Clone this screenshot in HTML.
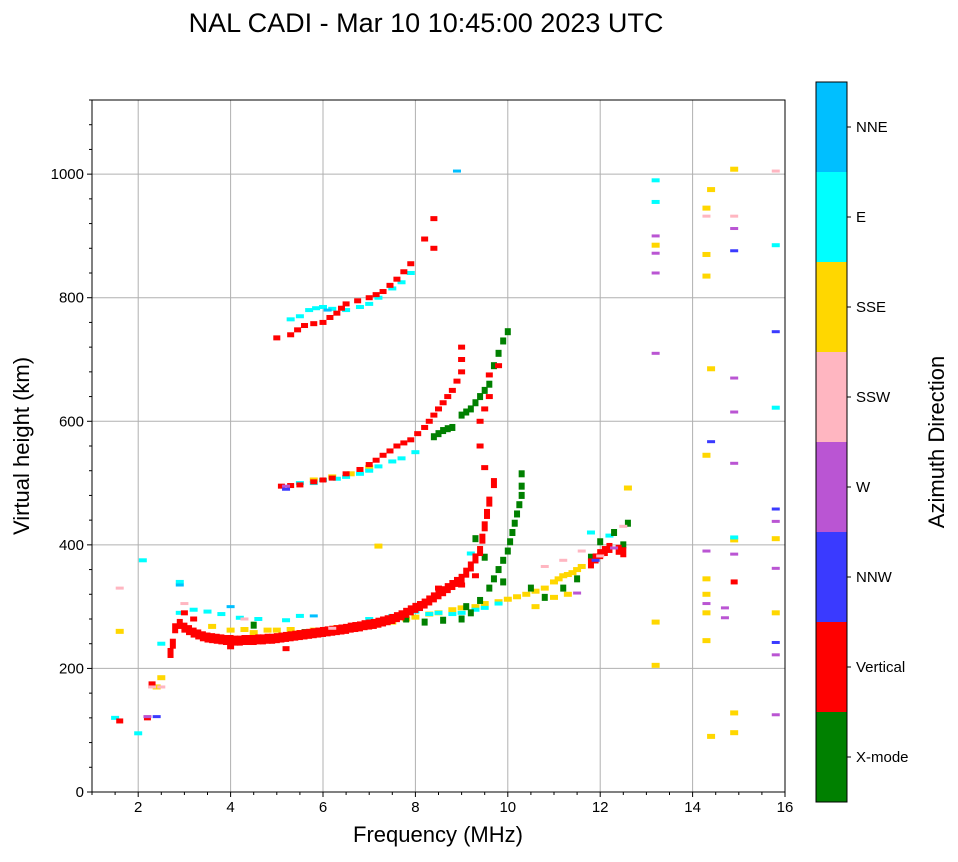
<!DOCTYPE html>
<html><head><meta charset="utf-8"><style>
body{margin:0;background:#fff;font-family:"Liberation Sans","DejaVu Sans",sans-serif;}
svg text{font-family:"Liberation Sans","DejaVu Sans",sans-serif;}
</style></head><body>
<svg id="chart" width="958" height="857" xmlns="http://www.w3.org/2000/svg">
<rect width="958" height="857" fill="#fff"/>
<text x="426" y="32" font-size="27" text-anchor="middle">NAL CADI - Mar 10 10:45:00 2023 UTC</text>
<g id="grid"></g>
<g id="marks"></g>
<g id="axes"></g>
<g id="cbar"></g>
<text x="438" y="842" font-size="22" text-anchor="middle">Frequency (MHz)</text>
<text transform="translate(29,446) rotate(-90)" font-size="22" text-anchor="middle">Virtual height (km)</text>
<text transform="translate(944,442) rotate(-90)" font-size="22" text-anchor="middle">Azimuth Direction</text>
</svg>
<script>
const directionLabels=["X-mode","Vertical","NNW","W","SSW","SSE","E","NNE"];
const directionColors=["#008000","#ff0000","#3a3aff","#ba55d3","#ffb6c1","#ffd700","#00ffff","#00bfff"];
const xTicks=[2,4,6,8,10,12,14,16];
const yTicks=[0,200,400,600,800,1000];
const redLower=[[2.7,225],[2.75,240],[2.8,265],[2.9,272],[3.0,266],[3.1,262],[3.2,258],[3.3,255],[3.4,252],[3.5,250],[3.6,249],[3.7,248],[3.8,247],[3.9,246],[4.0,246],[4.1,245],[4.2,245],[4.3,246],[4.4,246],[4.5,246],[4.6,247],[4.7,247],[4.8,248],[4.9,248],[5.0,249],[5.1,250],[5.2,251],[5.3,252],[5.4,253],[5.5,254],[5.6,255],[5.7,256],[5.8,257],[5.9,258],[6.0,259],[6.1,260],[6.2,261],[6.3,262],[6.4,263],[6.5,264],[6.6,266],[6.7,267],[6.8,268],[6.9,270],[7.0,271],[7.1,272],[7.2,274],[7.3,276],[7.4,278],[7.5,280],[7.6,283],[7.7,286],[7.8,290],[7.9,294],[8.0,298],[8.1,301],[8.2,305],[8.3,310],[8.4,315],[8.5,320],[8.6,325],[8.7,330],[8.8,335],[8.9,340],[9.0,345],[9.1,355],[9.2,365],[9.3,378],[9.4,390],[9.45,410],[9.5,430],[9.55,450],[9.6,470],[9.7,500],[11.8,370],[11.9,378],[12.0,385],[12.1,390],[12.2,395],[12.4,392],[12.5,388]];
const redScatter=[[5.1,495],[5.3,496],[5.5,497],[5.8,502],[6,505],[6.2,508],[6.5,515],[6.8,522],[7,530],[7.15,537],[7.3,545],[7.45,552],[7.6,560],[7.75,565],[7.9,570],[8.05,580],[8.2,590],[8.3,600],[8.4,610],[8.5,620],[8.6,630],[8.7,640],[8.8,650],[8.9,665],[9,680],[9,700],[9,720],[9.5,620],[9.4,600],[9.6,640],[9.8,690],[9.6,675],[9.5,525],[9.4,560],[5.0,735],[5.3,740],[5.45,748],[5.6,755],[5.8,758],[6.0,760],[6.15,768],[6.3,775],[6.4,783],[6.5,790],[6.75,795],[7.0,800],[7.15,805],[7.3,810],[7.45,820],[7.6,830],[7.75,842],[7.9,855],[8.2,895],[8.4,928],[8.4,880],[1.6,115],[2.2,120],[2.3,175],[14.9,340],[4.0,235],[5.2,232],[3.0,290],[3.2,280],[8.5,330],[9.0,335],[9.3,350]];
const yellowPts=[[3.6,268],[4.0,262],[4.3,263],[4.5,258],[4.8,262],[5,262],[5.3,263],[5.5,258],[5.8,262],[6.0,262],[6.3,266],[6.5,265],[6.8,270],[7,268],[7.3,275],[7.5,275],[7.8,280],[8,283],[8.3,288],[8.5,290],[8.8,295],[9,298],[9.3,300],[9.5,305],[9.8,308],[10,312],[10.2,316],[10.4,320],[10.6,325],[10.8,330],[11.0,340],[11.1,345],[11.2,350],[11.3,352],[11.4,355],[11.5,360],[11.6,365],[10.6,300],[11,315],[11.3,320],[12.6,492],[2.5,185],[2.4,170],[1.6,260],[13.2,275],[13.2,205],[14.3,345],[14.3,320],[14.3,290],[14.3,245],[14.4,90],[14.9,408],[14.9,128],[14.9,96],[14.3,870],[14.3,835],[14.3,545],[14.4,685],[14.3,945],[14.9,1008],[13.2,885],[14.4,975],[15.8,290],[15.8,410],[7.2,398],[5.8,505],[6.2,510],[6.6,515],[7.0,525]];
const cyanPts=[[2.9,290],[3.2,295],[3.5,292],[3.8,288],[4.2,282],[4.6,280],[5.2,278],[5.5,285],[7.0,280],[7.5,285],[8.0,292],[8.3,288],[8.5,290],[8.8,288],[9.0,290],[9.3,295],[9.5,298],[9.8,305],[11.8,420],[12.2,415],[2.5,240],[2.0,95],[1.5,120],[2.1,375],[13.2,990],[13.2,955],[14.9,412],[15.8,622],[15.8,885],[2.9,340],[9.2,386],[5.5,500],[5.8,500],[6,505],[6.3,507],[6.5,510],[6.8,515],[7,520],[7.2,527],[7.5,535],[7.7,540],[8,550],[5.5,770],[5.7,780],[5.85,783],[6,785],[6.2,782],[6.5,780],[6.8,785],[7,790],[7.2,800],[7.5,815],[7.7,825],[7.9,840],[5.3,765]];
const greenPts=[[7.8,280],[8.2,275],[8.6,278],[9,280],[9.2,290],[9.4,310],[9.6,330],[9.7,345],[9.8,360],[9.9,375],[10,390],[10.05,405],[10.1,420],[10.15,435],[10.2,450],[10.25,465],[10.3,480],[10.3,495],[10.3,515],[9.3,410],[9.1,300],[9.5,380],[9.9,340],[10.5,330],[10.8,315],[11.2,330],[11.5,345],[11.8,380],[12,405],[12.3,420],[12.6,435],[12.5,400],[5.6,258],[4.5,270],[8.4,575],[8.5,580],[8.6,585],[8.7,588],[8.8,590],[9,610],[9.1,615],[9.2,620],[9.3,630],[9.4,640],[9.5,650],[9.6,660],[9.7,690],[9.8,710],[9.9,730],[10,745]];
const pinkPts=[[2.5,170],[2.3,170],[1.6,330],[3.0,305],[4.3,280],[6.2,265],[11.2,375],[11.6,390],[12,382],[10.8,365],[15.8,1005],[14.9,932],[14.3,932],[12.5,430]];
const orchidPts=[[13.2,900],[13.2,872],[13.2,840],[13.2,710],[14.9,912],[14.9,670],[14.9,615],[14.9,532],[14.9,385],[14.3,390],[14.3,305],[14.7,282],[14.7,298],[15.8,438],[15.8,362],[15.8,222],[15.8,125],[5.2,495],[12.3,395],[2.2,122],[11.5,322]];
const bluePts=[[15.8,745],[15.8,458],[15.8,242],[14.9,876],[14.4,567],[2.4,122],[5.2,490],[11.9,375]];
const skyPts=[[2.9,335],[8.9,1005],[5.8,285],[6.1,780],[4.0,300]];

const NS="http://www.w3.org/2000/svg";
const X0=92,X1=785,Y0=792,Y1=100;
function sx(f){return X0+(f-1)/15*(X1-X0);}
function sy(h){return Y0-h/1120*(Y0-Y1);}
function mk(tag,attrs,parent){const e=document.createElementNS(NS,tag);for(const k in attrs)e.setAttribute(k,attrs[k]);parent.appendChild(e);return e;}
const grid=document.getElementById('grid'),axes=document.getElementById('axes'),marks=document.getElementById('marks'),cb=document.getElementById('cbar');
xTicks.forEach(t=>{const l=mk('line',{x1:sx(t),x2:sx(t),y1:Y1,y2:Y0,stroke:'#b0b0b0','stroke-width':1},grid);

});
yTicks.forEach(t=>{const l=mk('line',{x1:X0,x2:X1,y1:sy(t),y2:sy(t),stroke:'#b0b0b0','stroke-width':1},grid);

});
function drawGroup(pts,dir,hpx,w,name){pts.forEach(p=>{const r=mk('rect',{x:sx(p[0])-w/2,y:sy(p[1])-hpx/2,width:w,height:hpx,fill:directionColors[dir]},marks);

});}
drawGroup(yellowPts,5,5,8,'sse-echo');
drawGroup(cyanPts,6,4,8,'e-echo');
drawGroup(greenPts,0,7,6,'x-mode-echo');
drawGroup(redLower,1,10,6,'vertical-echo-lower-trace');
drawGroup(redScatter,1,5,7,'vertical-echo');
drawGroup(pinkPts,4,3,8,'ssw-echo');
drawGroup(orchidPts,3,3,8,'w-echo');
drawGroup(bluePts,2,3,8,'nnw-echo');
drawGroup(skyPts,7,3,8,'nne-echo');
const fr=mk('rect',{x:X0,y:Y1,width:X1-X0,height:Y0-Y1,fill:'none',stroke:'#000','stroke-width':1},axes);


for(let f=1;f<=16;f+=0.5){mk('line',{x1:sx(f),x2:sx(f),y1:Y0,y2:Y0+(f%2==0?5:3),stroke:'#000'},axes);}
for(let h=0;h<=1120;h+=40){mk('line',{x1:X0,x2:X0-(h%200==0?5:3),y1:sy(h),y2:sy(h),stroke:'#000'},axes);}
xTicks.forEach(t=>{const tx=mk('text',{x:sx(t),y:Y0+20,'font-size':15,'text-anchor':'middle'},axes);tx.textContent=t;

});
yTicks.forEach(t=>{const tx=mk('text',{x:X0-8,y:sy(t)+5,'font-size':15,'text-anchor':'end'},axes);tx.textContent=t;

});
const CX=816,CW=31,CT=82,CB=802,seg=(CB-CT)/directionLabels.length;
directionLabels.forEach((lab,i)=>{const y=CB-(i+1)*seg;
const r=mk('rect',{x:CX,y:y,width:CW,height:seg,fill:directionColors[i]},cb);


mk('line',{x1:CX+CW,x2:CX+CW+4,y1:y+seg/2,y2:y+seg/2,stroke:'#000'},cb);
const t=mk('text',{x:CX+CW+9,y:y+seg/2+5,'font-size':15},cb);t.textContent=lab;

});
mk('rect',{x:CX,y:CT,width:CW,height:CB-CT,fill:'none',stroke:'#000'},cb);
</script>
</body></html>
